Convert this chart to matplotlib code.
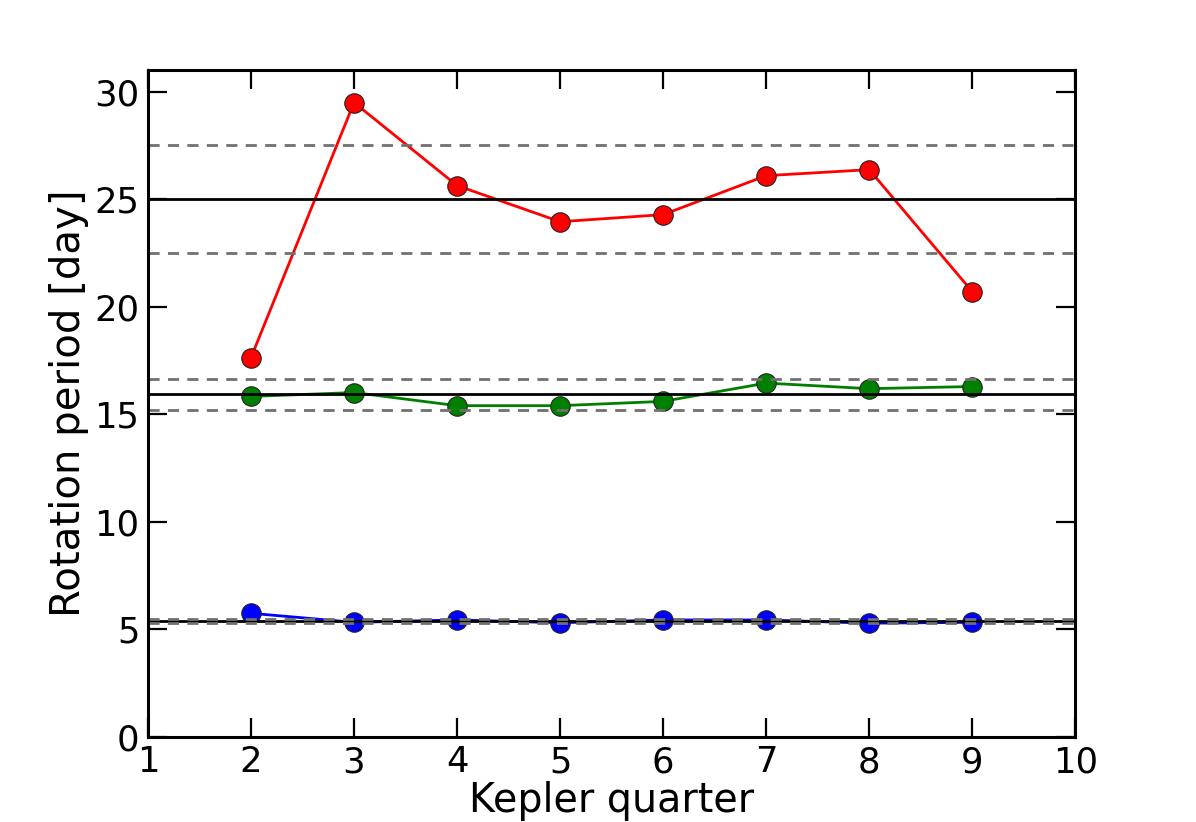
import numpy as np
import matplotlib
matplotlib.use('Agg')
import matplotlib.pyplot as plt

quarter = [2, 3, 4, 5, 6, 7, 8, 9]

p_red = [17.63, 29.49, 25.63, 23.95, 24.28, 26.09, 26.37, 20.70]
p_green = [15.83, 16.01, 15.40, 15.40, 15.60, 16.45, 16.19, 16.29]
p_blue = [5.75, 5.33, 5.44, 5.31, 5.44, 5.44, 5.29, 5.33]

# mean period and spread of each star
p_mean = [25.0, 15.92, 5.40]
p_err = [2.5, 0.72, 0.10]

fig = plt.figure(figsize=(11.96, 8.22), dpi=100)
ax = fig.add_axes([0.1237, 0.1034, 0.7754, 0.8114])

for y, c in zip([p_red, p_green, p_blue], ['red', 'green', 'blue']):
    ax.plot(quarter, y, '-o', color=c, lw=2, ms=14, mec='#222222', mew=0.8)

for m, e in zip(p_mean, p_err):
    ax.axhline(m, color='black', lw=2)
    ax.axhline(m + e, color='#707070', lw=2, ls=(0, (4, 3)))
    ax.axhline(m - e, color='#707070', lw=2, ls=(0, (4, 3)))

ax.set_xlim(1, 10)
ax.set_ylim(0, 31)
ax.set_xticks(range(1, 11))
ax.set_yticks([0, 5, 10, 15, 20, 25, 30])
ax.tick_params(direction='in', length=14, width=1.6, labelsize=25.5,
               top=True, right=True, pad=6)
for s in ax.spines.values():
    s.set_linewidth(2.2)

ax.set_xlabel("Kepler quarter", fontsize=28.5, labelpad=1)
ax.set_ylabel("Rotation period [day]", fontsize=29, labelpad=4)

plt.savefig('out.png', dpi=100)
